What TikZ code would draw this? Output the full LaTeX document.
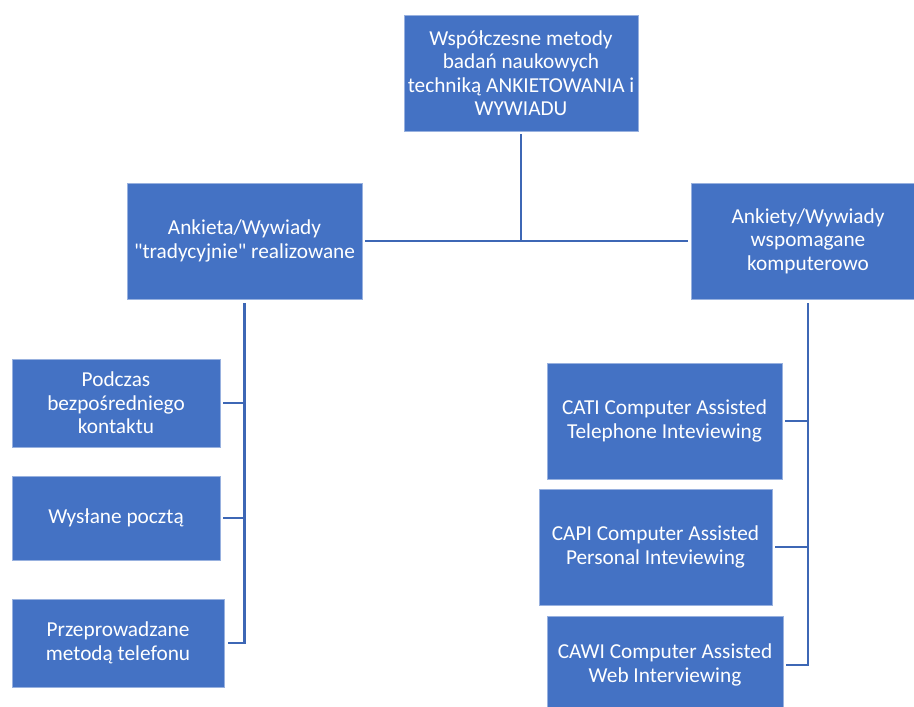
\documentclass[tikz,border=0pt]{standalone}
\usepackage{fontspec}
\setmainfont{Carlito}[Ligatures=TeXOff]
\definecolor{boxblue}{RGB}{68,114,196}
\definecolor{linkblue}{RGB}{61,103,181}
\begin{document}
\begin{tikzpicture}[x=1pt,y=-1pt,
  box/.style={rectangle, fill=boxblue, draw=boxblue!55!white, line width=0.8pt,
    text=white, inner sep=0pt, align=center, font=\fontsize{21.3}{23.5}\selectfont},
  conn/.style={draw=linkblue, line width=2.2pt}]
\useasboundingbox (0,0) rectangle (914,707);
\clip (0,0) rectangle (914,707);
\node[box, minimum width=234pt, minimum height=116pt] (top) at (521,73)
  {Współczesne metody\\badań naukowych\\techniką ANKIETOWANIA i\\WYWIADU};
\node[box, minimum width=235pt, minimum height=116pt] (lm) at (244.5,241)
  {Ankieta/Wywiady\\"tradycyjnie" realizowane};
\node[box, minimum width=234pt, minimum height=116pt] (rm) at (808,241)
  {Ankiety/Wywiady\\wspomagane\\komputerowo};
\node[box, minimum width=208pt, minimum height=88pt] (c1) at (116,403)
  {Podczas\\bezpośredniego\\kontaktu};
\node[box, minimum width=208pt, minimum height=84pt] (c2) at (116,518)
  {Wysłane pocztą};
\node[box, minimum width=212pt, minimum height=88pt] (c3) at (118,643)
  {Przeprowadzane\\metodą telefonu};
\node[box, minimum width=235pt, minimum height=116pt] (d1) at (664.5,421)
  {CATI Computer Assisted\\Telephone Inteviewing};
\node[box, minimum width=233pt, minimum height=116pt] (d2) at (655.5,547)
  {CAPI Computer Assisted\\Personal Inteviewing};
\node[box, minimum width=236pt, minimum height=98pt] (d3) at (665,665)
  {CAWI Computer Assisted\\Web Interviewing};
% top connectors
\coordinate (tj) at (top.south |- lm.east);
\draw[conn, shorten <=3pt] (top.south) -- (tj);
\draw[conn, shorten <=3pt, shorten >=3pt] (lm.east) -- (rm.west);
% left branch
\coordinate (lj3) at (lm.south |- c3.east);
\draw[conn, shorten <=4pt, shorten >=4pt] (lm.south) -- (lj3) -- (c3.east);
\draw[conn, shorten <=3pt] (c1.east) -- (lm.south |- c1.east);
\draw[conn, shorten <=3pt] (c2.east) -- (lm.south |- c2.east);
% right branch
\coordinate (rj3) at (rm.south |- d3.east);
\draw[conn, shorten <=4pt, shorten >=3pt] (rm.south) -- (rj3) -- (d3.east);
\draw[conn, shorten <=3pt] (d1.east) -- (rm.south |- d1.east);
\draw[conn, shorten <=3pt] (d2.east) -- (rm.south |- d2.east);
\end{tikzpicture}
\end{document}
